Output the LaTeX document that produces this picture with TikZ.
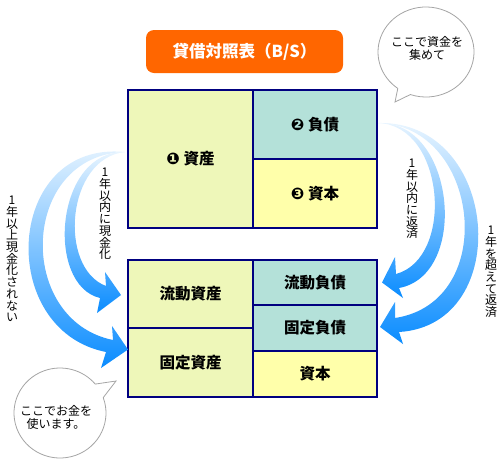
\documentclass[tikz,border=0pt]{standalone}
\usepackage{fontspec}
\setmainfont{Noto Sans CJK JP}
\newfontfamily\dingfont{DejaVu Sans}
\usetikzlibrary{positioning, calc}

\definecolor{titleorange}{RGB}{255,102,0}
\definecolor{framenavy}{RGB}{0,0,128}
\definecolor{assetgreen}{RGB}{238,247,185}
\definecolor{debtteal}{RGB}{180,225,217}
\definecolor{equityyellow}{RGB}{255,255,170}
\definecolor{arrowlight}{RGB}{235,246,255}
\definecolor{arrowmid}{RGB}{95,180,255}
\definecolor{arrowblue}{RGB}{10,140,255}
\definecolor{bubblegray}{RGB}{165,165,165}

\tikzset{
  cell/.style={draw=framenavy, line width=1.2pt, anchor=north west, inner sep=0pt, outer sep=0pt,
               font=\fontsize{15.5}{17}\selectfont\bfseries},
  vlabel/.style={align=center, inner sep=0pt, font=\fontsize{12}{11.7}\selectfont},
  bubbletext/.style={align=center, inner sep=0pt, font=\fontsize{12}{13}\selectfont},
  flow/.style={top color=arrowlight, middle color=arrowmid, bottom color=arrowblue},
  bubble/.style={draw=bubblegray, line width=0.8pt, fill=white}
}
\newcommand{\nummark}[1]{{\dingfont\fontsize{16}{17}\selectfont #1}}

\begin{document}
\begin{tikzpicture}[x=1pt, y=-1pt]
    \useasboundingbox (0,0) rectangle (497,469);

    \node[fill=titleorange, rounded corners=8pt, minimum width=197pt, minimum height=43pt,
          text=white, font=\fontsize{16.5}{18}\selectfont\bfseries] (title) at (244.5,51.5) {貸借対照表（B/S）};

    % B/S before
    \node[cell, fill=assetgreen, minimum width=125pt, minimum height=138pt] (assets) at (128,90) {\nummark{❶} 資産};
    \node[cell, fill=debtteal, minimum width=124pt, minimum height=69pt] (liab) at (assets.north east) {\nummark{❷} 負債};
    \node[cell, fill=equityyellow, minimum width=124pt, minimum height=69pt] (equity) at (liab.south west) {\nummark{❸} 資本};

    % B/S after
    \node[cell, fill=assetgreen, minimum width=125pt, minimum height=68pt] (curasset) at (128,260) {流動資産};
    \node[cell, fill=assetgreen, minimum width=125pt, minimum height=69pt] (fixasset) at (curasset.south west) {固定資産};
    \node[cell, fill=debtteal, minimum width=124pt, minimum height=45pt] (curliab) at (curasset.north east) {流動負債};
    \node[cell, fill=debtteal, minimum width=124pt, minimum height=46pt] (fixliab) at (curliab.south west) {固定負債};
    \node[cell, fill=equityyellow, minimum width=124pt, minimum height=46pt] (capital) at (fixliab.south west) {資本};

    \coordinate (lstart) at ($(assets.west)+(-3,-7)$);
    \coordinate (rstart) at ($(liab.east)+(1,-1.5)$);

    \shade[flow] (lstart) .. controls (5,140) and (-5,330) .. (106,352) -- (101,368) -- ($(fixasset.west)+(0,-13)$)
        -- (112,326) -- (113,340) .. controls (15,320) and (20,155) .. (lstart) -- cycle;
    \shade[flow] (lstart) .. controls (55,150) and (45,285) .. (100,298) -- (97,313) -- ($(curasset.west)+(-7,1)$)
        -- (105,272) -- (106,286) .. controls (58,268) and (66,158) .. (lstart) -- cycle;
    \shade[flow] (rstart) .. controls (500,120) and (515,325) .. (399,332) -- (403,344) -- ($(fixliab.east)+(3,-1)$)
        -- (395,302) -- (395,318) .. controls (500,302) and (480,125) .. (rstart) -- cycle;
    \shade[flow] (rstart) .. controls (455,120) and (470,275) .. (399,288) -- (403,298) -- ($(curliab.east)+(5,0)$)
        -- (395,257) -- (396,274) .. controls (455,258) and (445,125) .. (rstart) -- cycle;

    \node[vlabel] (cashin) at (105,214) {1\\年\\以\\内\\に\\現\\金\\化};
    \node[vlabel] (cashout) at (12,259) {1\\年\\以\\上\\現\\金\\化\\さ\\れ\\な\\い};
    \node[vlabel] (payin) at (412,199) {1\\年\\以\\内\\に\\返\\済};
    \node[vlabel] (payout) at (491,272) {1\\年\\を\\超\\え\\て\\返\\済};

    \draw[bubble] (426,52) ++(109:48 and 45) arc[start angle=109, end angle=-234, x radius=48, y radius=45]
        -- (395,102) -- cycle;
    \node[bubbletext] (collect) at (427,48) {ここで資金を\\集めて};

    \draw[bubble] (60,413) ++(-20:46 and 45) arc[start angle=-20, end angle=320, x radius=46, y radius=45]
        -- (116,381) -- cycle;
    \node[bubbletext] (spend) at (56,417) {ここでお金を\\使います。};
\end{tikzpicture}
\end{document}
